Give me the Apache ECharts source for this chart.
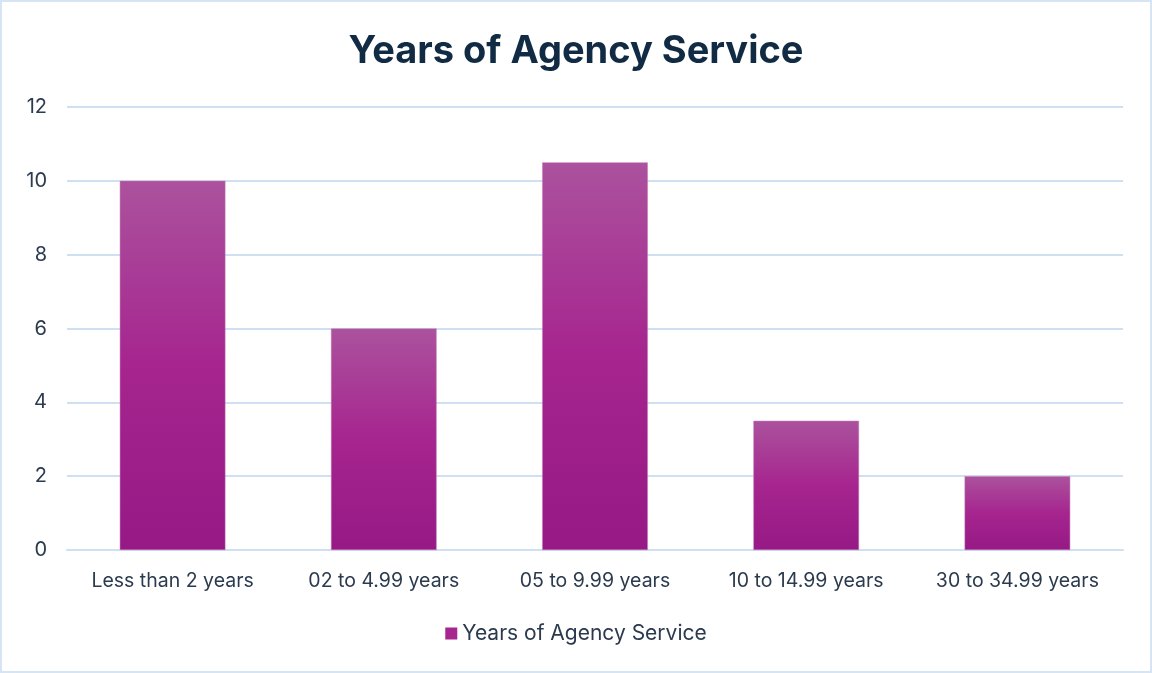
<!DOCTYPE html>
<html>
<head>
<meta charset="utf-8">
<script src="https://cdn.jsdelivr.net/npm/echarts@6/dist/echarts.min.js"></script>
<style>
  html, body { margin: 0; padding: 0; background: #fff; }
  #chart { width: 1152px; height: 673px; box-sizing: border-box; border: 2px solid #D6E4F3; }
</style>
</head>
<body>
<div id="chart"></div>
<script>
var categories = ['Less than 2 years', '02 to 4.99 years', '05 to 9.99 years', '10 to 14.99 years', '30 to 34.99 years'];
var serviceValues = [10, 6, 10.5, 3.5, 2];
var seriesName = 'Years of Agency Service';

var textColor = '#2B3A4E';
var fontFam = 'Inter, "Noto Sans", sans-serif';

var barFill = new echarts.graphic.LinearGradient(0, 0, 0, 1, [
  { offset: 0, color: '#AB529D' },
  { offset: 0.5, color: '#A6258F' },
  { offset: 1, color: '#961985' }
]);

var chart = echarts.init(document.getElementById('chart'));
chart.setOption({
  animation: false,
  title: {
    text: 'Years of Agency Service',
    left: 'center',
    top: 26,
    textStyle: { fontFamily: fontFam, fontSize: 38, fontWeight: 'bold', color: '#112B45' }
  },
  legend: {
    bottom: 22,
    left: 'center',
    icon: 'rect',
    itemWidth: 12,
    itemHeight: 12,
    itemGap: 6,
    textStyle: { fontFamily: fontFam, fontSize: 21, color: textColor },
    data: [{ name: seriesName, itemStyle: { color: '#A6258F', borderWidth: 0 } }]
  },
  grid: { left: 65, right: 27, top: 105, bottom: 121 },
  xAxis: {
    type: 'category',
    data: categories,
    axisLine: { show: true, lineStyle: { color: '#CFE0F2', width: 2 } },
    axisTick: { show: false },
    axisLabel: { fontFamily: fontFam, fontSize: 19.5, color: textColor, margin: 21, interval: 0 }
  },
  yAxis: {
    type: 'value',
    min: 0,
    max: 12,
    interval: 2,
    axisLine: { show: false },
    axisTick: { show: false },
    axisLabel: { fontFamily: fontFam, fontSize: 20, color: textColor, margin: 20 },
    splitLine: { lineStyle: { color: '#CFE0F2', width: 2 } }
  },
  series: [{
    name: seriesName,
    type: 'bar',
    data: serviceValues,
    barWidth: '50%',
    itemStyle: { color: barFill, borderColor: '#C27AB8', borderWidth: 0.5 }
  }]
});
</script>
</body>
</html>
